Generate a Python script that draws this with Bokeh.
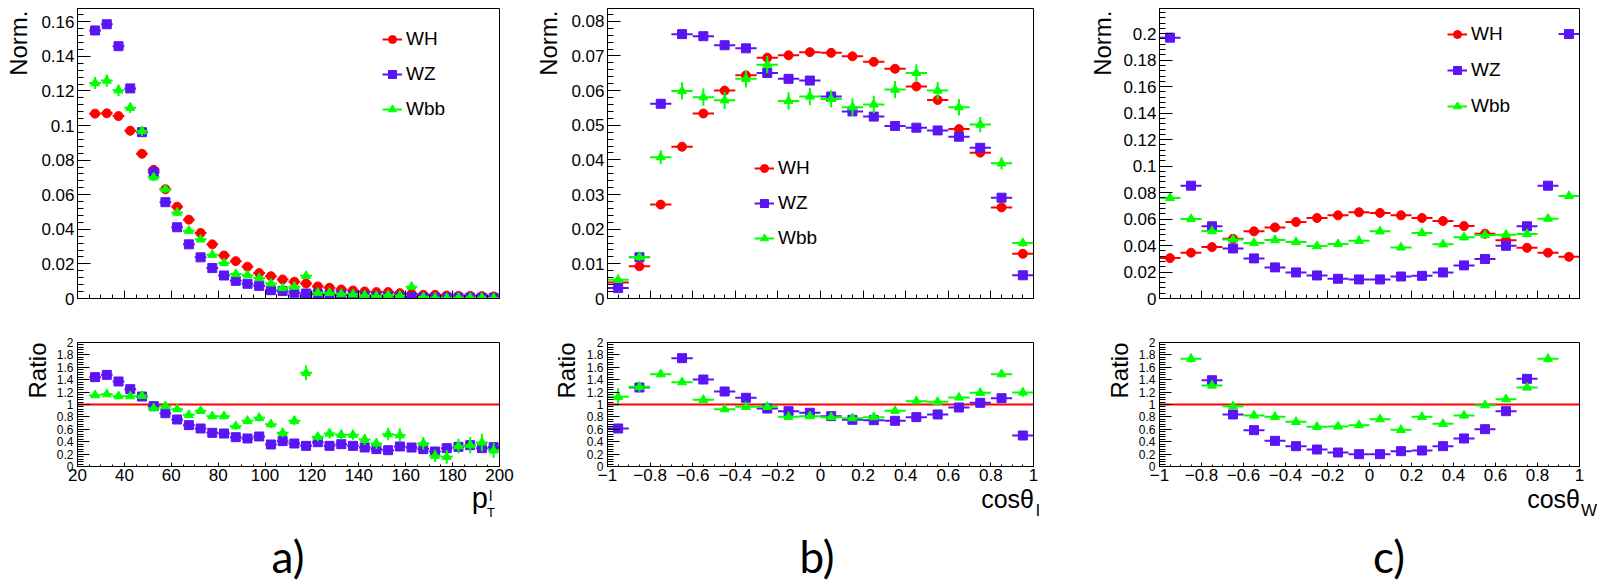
import numpy as np
from bokeh.plotting import figure
from bokeh.layouts import row, column
from bokeh.models import (ColumnDataSource, FixedTicker, Label, Legend, LegendItem,
                          Span, Range1d, Div)
from bokeh.embed import file_html
from bokeh.resources import INLINE

NAN = float("nan")

# ---------------- data ----------------
# panel a) : lepton pT, 5 GeV bins from 25 to 200
pt_centers = [27.5, 32.5, 37.5, 42.5, 47.5, 52.5, 57.5, 62.5, 67.5, 72.5,
              77.5, 82.5, 87.5, 92.5, 97.5, 102.5, 107.5, 112.5, 117.5, 122.5,
              127.5, 132.5, 137.5, 142.5, 147.5, 152.5, 157.5, 162.5, 167.5, 172.5,
              177.5, 182.5, 187.5, 192.5, 197.5]
pt_halfwidth = 2.5
WH_a = [0.1069, 0.1071, 0.1055, 0.0970, 0.0837, 0.0744, 0.0632, 0.0531, 0.0456, 0.0379,
        0.0313, 0.0249, 0.0216, 0.0184, 0.0147, 0.0129, 0.0110, 0.0097, 0.0087, 0.0070,
        0.0062, 0.0052, 0.0046, 0.0041, 0.0037, 0.0037, 0.0031, 0.0027, 0.0021, 0.0021,
        0.0017, 0.0015, 0.0015, 0.0014, 0.0012]
WZ_a = [0.1550, 0.1586, 0.1459, 0.1215, 0.0962, 0.0730, 0.0557, 0.0412, 0.0313, 0.0238,
        0.0176, 0.0133, 0.0102, 0.0085, 0.0073, 0.0048, 0.0043, 0.0033, 0.0029, 0.0026,
        0.0021, 0.0019, 0.0015, 0.0013, 0.0010, 0.0010, 0.0010, 0.0008, 0.0006, 0.0005,
        0.0005, 0.0005, 0.0005, 0.0004, 0.0004]
Wbb_a = [0.1246, 0.1260, 0.1204, 0.1103, 0.0968, 0.0701, 0.0632, 0.0497, 0.0392, 0.0342,
         0.0253, 0.0205, 0.0141, 0.0135, 0.0118, 0.0087, 0.0060, 0.0068, 0.0131, 0.0033,
         0.0033, 0.0027, 0.0024, 0.0018, 0.0014, 0.0019, 0.0016, 0.0068, 0.0008, 0.0004,
         0.0003, 0.0005, 0.0005, 0.0005, 0.0003]
Wbb_a_err = [0.0035, 0.0035, 0.0033, 0.0030, 0.0028, 0.0023, 0.0022, 0.0019, 0.0017, 0.0016,
             0.0014, 0.0013, 0.0011, 0.0011, 0.0010, 0.0009, 0.0008, 0.0008, 0.0011, 0.0005,
             0.0005, 0.0005, 0.0005, 0.0004, 0.0004, 0.0004, 0.0004, 0.0008, 0.0003, 0.0003,
             0.0003, 0.0003, 0.0003, 0.0003, 0.0003]
ratio_WZ_a = [1.441, 1.478, 1.371, 1.247, 1.129, 0.973, 0.860, 0.758, 0.667, 0.613,
              0.543, 0.532, 0.473, 0.452, 0.484, 0.355, 0.409, 0.371, 0.333, 0.392,
              0.333, 0.360, 0.333, 0.306, 0.280, 0.263, 0.323, 0.306, 0.280, 0.242,
              0.296, 0.317, 0.344, 0.296, 0.312]
ratio_Wbb_a = [1.151, 1.167, 1.134, 1.134, 1.140, 0.941, 0.973, 0.925, 0.833, 0.898,
               0.812, 0.812, 0.651, 0.737, 0.785, 0.683, 0.543, 0.737, 1.511, 0.478,
               0.532, 0.511, 0.511, 0.435, 0.371, 0.522, 0.505, NAN, 0.376, 0.172,
               0.156, 0.328, 0.344, 0.387, 0.258]
ratio_Wbb_a_err = [0.03, 0.03, 0.03, 0.03, 0.035, 0.035, 0.04, 0.04, 0.045, 0.045,
                   0.05, 0.05, 0.055, 0.055, 0.06, 0.06, 0.07, 0.07, 0.12, 0.07,
                   0.08, 0.08, 0.08, 0.09, 0.09, 0.10, 0.11, 0.25, 0.10, 0.10,
                   0.11, 0.12, 0.13, 0.14, 0.12]

# panels b) and c) : 20 bins of width 0.1 between -1 and 1
cos_centers = [-0.95, -0.85, -0.75, -0.65, -0.55, -0.45, -0.35, -0.25, -0.15, -0.05,
               0.05, 0.15, 0.25, 0.35, 0.45, 0.55, 0.65, 0.75, 0.85, 0.95]
cos_halfwidth = 0.05

WH_b = [0.0046, 0.0093, 0.0271, 0.0438, 0.0534, 0.0600, 0.0644, 0.0695, 0.0702, 0.0711,
        0.0709, 0.0699, 0.0683, 0.0663, 0.0612, 0.0573, 0.0489, 0.0421, 0.0263, 0.0129]
WZ_b = [0.0030, 0.0119, 0.0562, 0.0763, 0.0757, 0.0731, 0.0722, 0.0651, 0.0634, 0.0629,
        0.0583, 0.0540, 0.0525, 0.0498, 0.0493, 0.0485, 0.0467, 0.0435, 0.0291, 0.0067]
Wbb_b = [0.0054, 0.0120, 0.0408, 0.0599, 0.0581, 0.0572, 0.0634, 0.0675, 0.0570, 0.0583,
         0.0576, 0.0552, 0.0560, 0.0603, 0.0651, 0.0600, 0.0552, 0.0502, 0.0390, 0.0160]
Wbb_b_err = [0.0008, 0.0012, 0.0020, 0.0025, 0.0025, 0.0025, 0.0025, 0.0025, 0.0025, 0.0025,
             0.0025, 0.0025, 0.0025, 0.0025, 0.0025, 0.0025, 0.0024, 0.0022, 0.0018, 0.0010]
ratio_WZ_b = [0.613, 1.274, NAN, 1.747, 1.403, 1.210, 1.108, 0.935, 0.892, 0.866,
              0.812, 0.753, 0.747, 0.737, 0.796, 0.839, 0.952, 1.027, 1.102, 0.500]
ratio_Wbb_b = [1.124, 1.285, 1.489, 1.360, 1.075, 0.925, 0.962, 0.962, 0.801, 0.812,
               0.796, 0.780, 0.796, 0.898, 1.054, 1.043, 1.113, 1.188, 1.489, 1.194]
ratio_Wbb_b_err = [0.14, 0.08, 0.05, 0.04, 0.04, 0.04, 0.04, 0.04, 0.04, 0.04,
                   0.04, 0.04, 0.04, 0.04, 0.04, 0.04, 0.04, 0.04, 0.05, 0.07]

WH_c = [0.0305, 0.0346, 0.0388, 0.0451, 0.0507, 0.0537, 0.0578, 0.0608, 0.0628, 0.0651,
        0.0646, 0.0628, 0.0608, 0.0585, 0.0547, 0.0489, 0.0439, 0.0383, 0.0346, 0.0315]
WZ_c = [0.1970, 0.0852, 0.0545, 0.0378, 0.0303, 0.0235, 0.0197, 0.0174, 0.0149, 0.0144,
        0.0144, 0.0166, 0.0171, 0.0197, 0.0250, 0.0298, 0.0398, 0.0545, 0.0852, 0.1997]
Wbb_c = [0.0759, 0.0600, 0.0509, 0.0446, 0.0419, 0.0441, 0.0426, 0.0396, 0.0411, 0.0436,
         0.0507, 0.0386, 0.0494, 0.0409, 0.0462, 0.0479, 0.0482, 0.0487, 0.0603, 0.0774]
Wbb_c_err = [0.0012, 0.0010, 0.0010, 0.0010, 0.0010, 0.0010, 0.0010, 0.0010, 0.0010, 0.0010,
             0.0010, 0.0010, 0.0010, 0.0010, 0.0010, 0.0010, 0.0010, 0.0010, 0.0010, 0.0012]
ratio_WZ_c = [NAN, NAN, 1.392, 0.839, 0.586, 0.414, 0.328, 0.274, 0.226, 0.199,
              0.199, 0.247, 0.258, 0.328, 0.452, 0.602, 0.892, 1.414, NAN, NAN]
ratio_Wbb_c = [NAN, 1.737, 1.306, 0.973, 0.823, 0.801, 0.720, 0.640, 0.645, 0.667,
               0.763, 0.591, 0.801, 0.688, 0.823, 0.989, 1.086, 1.274, 1.737, NAN]
ratio_Wbb_c_err = [0.06, 0.06, 0.045, 0.04, 0.035, 0.035, 0.035, 0.035, 0.035, 0.035,
                   0.035, 0.035, 0.035, 0.035, 0.035, 0.035, 0.04, 0.045, 0.06, 0.06]

series_names = ["WH", "WZ", "Wbb"]

# tick labels
ticks_a_y = [0, 0.02, 0.04, 0.06, 0.08, 0.1, 0.12, 0.14, 0.16]
labels_a_y = ["0", "0.02", "0.04", "0.06", "0.08", "0.1", "0.12", "0.14", "0.16"]
ticks_b_y = [0, 0.01, 0.02, 0.03, 0.04, 0.05, 0.06, 0.07, 0.08]
labels_b_y = ["0", "0.01", "0.02", "0.03", "0.04", "0.05", "0.06", "0.07", "0.08"]
ticks_c_y = [0, 0.02, 0.04, 0.06, 0.08, 0.1, 0.12, 0.14, 0.16, 0.18, 0.2]
labels_c_y = ["0", "0.02", "0.04", "0.06", "0.08", "0.1", "0.12", "0.14", "0.16", "0.18", "0.2"]
ticks_ratio_y = [0, 0.2, 0.4, 0.6, 0.8, 1, 1.2, 1.4, 1.6, 1.8, 2]
labels_ratio_y = ["0", "0.2", "0.4", "0.6", "0.8", "1", "1.2", "1.4", "1.6", "1.8", "2"]
ticks_pt = [20, 40, 60, 80, 100, 120, 140, 160, 180, 200]
labels_pt = ["20", "40", "60", "80", "100", "120", "140", "160", "180", "200"]
ticks_cos = [-1, -0.8, -0.6, -0.4, -0.2, 0, 0.2, 0.4, 0.6, 0.8, 1]
labels_cos = ["\u22121", "\u22120.8", "\u22120.6", "\u22120.4", "\u22120.2", "0",
              "0.2", "0.4", "0.6", "0.8", "1"]

# ---------------- style / geometry ----------------
FONT = "Liberation Sans"
RED = "#FF0000"
BLUE = "#5A14F5"
GREEN = "#00FF00"
MAIN_H = 290
RATIO_H = 124
MAIN_TOP, MAIN_BOTTOM = 8, 20
RATIO_TOP, RATIO_BOTTOM = 24, 22
MAIN_CANVAS_H = MAIN_TOP + MAIN_H + MAIN_BOTTOM          # 318
RATIO_CANVAS_H = RATIO_TOP + RATIO_H + RATIO_BOTTOM      # 170
BOTTOM_STRIP_H = 92


def minor_list(lo, hi, step):
    return [float(v) for v in np.round(np.arange(lo, hi + 1e-9, step), 6)]


def make_fig(xr, yr, fw, fh, left, right, top, bottom):
    p = figure(x_range=Range1d(*xr), y_range=Range1d(*yr), frame_width=fw, frame_height=fh,
               min_border_left=left, min_border_right=right, min_border_top=top,
               min_border_bottom=bottom, output_backend="svg", toolbar_location=None)
    p.xgrid.visible = False
    p.ygrid.visible = False
    p.outline_line_color = "black"
    p.outline_line_alpha = 1.0
    p.outline_line_width = 1
    p.background_fill_color = "white"
    p.border_fill_color = "white"
    return p


def make_strip(w, h, top, bottom):
    # a bare canvas only used to hold text labels; its frame matches the neighbour's frame
    s = figure(width=w, height=h, x_range=Range1d(0, 1), y_range=Range1d(0, 1),
               x_axis_type=None, y_axis_type=None,
               min_border_left=0, min_border_right=0, min_border_top=top,
               min_border_bottom=bottom, output_backend="svg", toolbar_location=None)
    s.xgrid.visible = False
    s.ygrid.visible = False
    s.outline_line_color = None
    s.background_fill_color = "white"
    s.border_fill_color = "white"
    return s


def style_axis(ax, ticks, minor, labels, font_size, tick_in, minor_in, standoff):
    ax.ticker = FixedTicker(ticks=ticks, minor_ticks=minor)
    ax.major_label_overrides = {t: l for t, l in zip(ticks, labels)}
    ax.major_tick_in = int(tick_in)
    ax.major_tick_out = 0
    ax.minor_tick_in = int(minor_in)
    ax.minor_tick_out = 0
    ax.major_tick_line_color = "black"
    ax.minor_tick_line_color = "black"
    ax.axis_line_color = "black"
    ax.major_label_text_font = FONT
    ax.major_label_text_font_size = font_size
    ax.major_label_text_color = "black"
    ax.major_label_standoff = int(standoff)


def draw_series(p, xc, half, y, err, color, marker, size):
    xc = np.asarray(xc, dtype=float)
    y = np.asarray(y, dtype=float)
    err = np.zeros_like(y) if err is None else np.asarray(err, dtype=float)
    src = ColumnDataSource(dict(x=xc, y=y, x0=xc - half, x1=xc + half,
                                ylo=y - err, yhi=y + err))
    hb = p.segment("x0", "y", "x1", "y", source=src, line_color=color, line_width=2)
    p.segment("x", "ylo", "x", "yhi", source=src, line_color=color, line_width=2)
    sc = p.scatter("x", "y", source=src, marker=marker, size=size,
                   fill_color=color, line_color=color)
    return hb, sc


def add_text(p, x, y, text, size, font=FONT, angle=0.0, align="left", baseline="alphabetic"):
    # screen units: x from frame left, y from frame bottom
    p.add_layout(Label(x=x, y=y, x_units="screen", y_units="screen", text=text,
                       text_font=font, text_font_size=f"{size}px", angle=angle,
                       text_align=align, text_baseline=baseline, text_color="black"))


# ---- bottom text strip as an HTML Div with absolutely positioned spans ----
ASC = {"Liberation Sans": 0.8465, "Lato": 0.887}   # baseline offset for line-height = 1em


def span(text, size, baseline, font=FONT, left=None, right=None, center=None):
    top = baseline - ASC[font] * size
    pos = f"top:{top:.1f}px;"
    if left is not None:
        pos += f"left:{left}px;"
    elif right is not None:
        pos += f"right:{right}px;"
    else:
        pos += f"left:{center}px;transform:translateX(-50%);"
    return (f'<span style="position:absolute;{pos}font-family:\'{font}\';'
            f'font-size:{size}px;line-height:{size}px;white-space:nowrap;color:black;">'
            f'{text}</span>')


def bottom_div(w, spans):
    html = (f'<div style="position:relative;width:{w}px;height:{BOTTOM_STRIP_H}px;'
            f'overflow:visible;margin:0;padding:0;">' + "".join(spans) + "</div>")
    return Div(text=html, width=w, height=BOTTOM_STRIP_H, margin=0)


def make_panel(xr, xc, half, vals, errs, rvals, rerrs, ymax, yt, yl, ymin_step,
               xt, xl, xminor_step, fw, main_strip_w, ratio_strip_w, main_left,
               ratio_left, right, legend_loc, legend_spacing, norm_x, ratio_x):
    # main
    pm = make_fig(xr, (0, ymax), fw, MAIN_H, main_left, right, MAIN_TOP, MAIN_BOTTOM)
    style_axis(pm.yaxis[0], yt, minor_list(0, ymax, ymin_step), yl, "17px", 13, 6, 3)
    style_axis(pm.xaxis[0], xt, minor_list(xr[0], xr[1], xminor_step),
               [""] * len(xt), "6px", 8, 4, 0)
    markers = [("circle", RED, 9), ("square", BLUE, 9), ("triangle", GREEN, 9)]
    items = []
    for name, v, e, (m, c, s) in zip(series_names, vals, errs, markers):
        hb, sc = draw_series(pm, xc, half, v, e, c, m, s)
        items.append(LegendItem(label=name, renderers=[hb, sc]))
    leg = Legend(items=items, location=legend_loc, label_text_font=FONT,
                 label_text_font_size="19px", label_text_color="black",
                 glyph_width=20, glyph_height=22, label_height=22, label_standoff=4,
                 spacing=legend_spacing, padding=0, margin=0,
                 border_line_alpha=0, background_fill_alpha=0)
    pm.add_layout(leg)
    sm = make_strip(main_strip_w, MAIN_CANVAS_H, MAIN_TOP, MAIN_BOTTOM)
    add_text(sm, norm_x, MAIN_H - 2, "Norm.", 24, angle=np.pi / 2, align="right",
             baseline="middle")

    # ratio
    pr = make_fig(xr, (0, 2), fw, RATIO_H, ratio_left, right, RATIO_TOP, RATIO_BOTTOM)
    style_axis(pr.yaxis[0], ticks_ratio_y, minor_list(0, 2, 0.04), labels_ratio_y,
               "12px", 12, 6, 4)
    style_axis(pr.xaxis[0], xt, minor_list(xr[0], xr[1], xminor_step), xl, "17px", 4, 2, 2)
    pr.add_layout(Span(location=1, dimension="width", line_color=RED, line_width=2,
                       level="underlay"))
    draw_series(pr, xc, half, rvals[0], None, BLUE, "square", 9)
    draw_series(pr, xc, half, rvals[1], rerrs, GREEN, "triangle", 9)
    sr = make_strip(ratio_strip_w, RATIO_CANVAS_H, RATIO_TOP, RATIO_BOTTOM)
    add_text(sr, ratio_x, RATIO_H, "Ratio", 24, angle=np.pi / 2,
             align="right", baseline="middle")
    return pm, pr, sm, sr


# column a : 530 px wide ; frame 422, frame left at 77
pa = make_panel((20, 200), pt_centers, pt_halfwidth, [WH_a, WZ_a, Wbb_a],
                [None, None, Wbb_a_err], [ratio_WZ_a, ratio_Wbb_a], ratio_Wbb_a_err,
                0.1677, ticks_a_y, labels_a_y, 0.004, ticks_pt, labels_pt, 5,
                422, 36, 52, 41, 25, 31, (305, 178), 13, 18, 37)
# column b : 550 px wide ; frame 426
pb = make_panel((-1, 1), cos_centers, cos_halfwidth, [WH_b, WZ_b, Wbb_b],
                [None, None, Wbb_b_err], [ratio_WZ_b, ratio_Wbb_b], ratio_Wbb_b_err,
                0.0837, ticks_b_y, labels_b_y, 0.002, ticks_cos, labels_cos, 0.05,
                426, 36, 52, 41, 25, 47, (147, 49), 13, 18, 36)
# column c : 520 px wide ; frame 420
pc = make_panel((-1, 1), cos_centers, cos_halfwidth, [WH_c, WZ_c, Wbb_c],
                [None, None, Wbb_c_err], [ratio_WZ_c, ratio_Wbb_c], ratio_Wbb_c_err,
                0.219, ticks_c_y, labels_c_y, 0.004, ticks_cos, labels_cos, 0.05,
                420, 38, 54, 41, 25, 21, (288, 181), 14, 22, 39)

# x-axis titles (with sub/superscripts) and panel letters; baselines in px from strip top
div_a = bottom_div(530, [span("p", 29, 20, right=530 - 488),
                         span("l", 15, 13, left=489),
                         span("T", 13, 29, left=487),
                         span("a)", 44, 85, font="Lato", center=288)])
div_b = bottom_div(550, [span("cos\u03b8", 25, 20, right=550 - 504),
                         span("l", 17, 28, left=506),
                         span("b)", 44, 85, font="Lato", center=287)])
div_c = bottom_div(520, [span("cos\u03b8", 25, 20, right=520 - 500),
                         span("W", 17, 28, left=501),
                         span("c)", 44, 85, font="Lato", center=309)])


def col(pp, d):
    pm, pr, sm, sr = pp
    return column(row(sm, pm), row(sr, pr), d)


layout = row(col(pa, div_a), col(pb, div_b), col(pc, div_c))

with open("out.html", "w") as f:
    f.write(file_html(layout, INLINE))
